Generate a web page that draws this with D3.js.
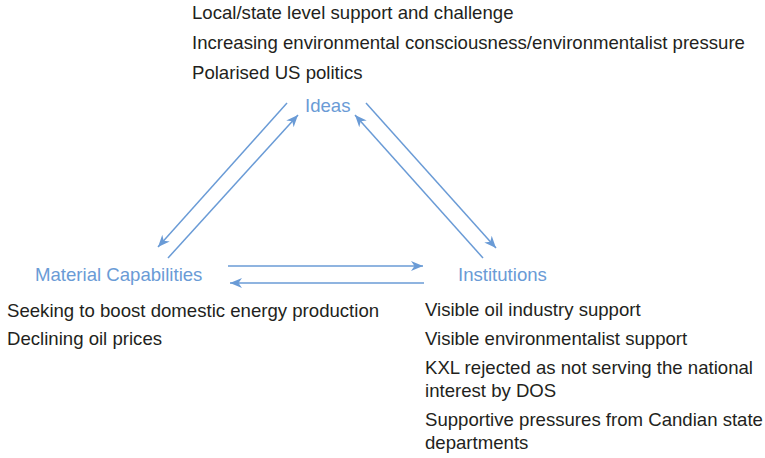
<!DOCTYPE html>
<html>
<head>
<meta charset="utf-8">
<script src="https://cdn.jsdelivr.net/npm/d3@7"></script>
<style>
html,body{margin:0;padding:0;background:#fff;}
svg{display:block;}
</style>
</head>
<body>
<svg id="chart" width="765" height="458"></svg>
<script>
// ---- data ----
const nodes = ["Ideas", "Material Capabilities", "Institutions"];
const ideasFactors = [
  ["Local/state level support and challenge"],
  ["Increasing environmental consciousness/environmentalist pressure"],
  ["Polarised US politics"]
];
const materialFactors = [
  ["Seeking to boost domestic energy production"],
  ["Declining oil prices"]
];
const institutionFactors = [
  ["Visible oil industry support"],
  ["Visible environmentalist support"],
  ["KXL rejected as not serving the national", "interest by DOS"],
  ["Supportive pressures from Candian state", "departments"]
];
const links = [
  {from: "Ideas", to: "Material Capabilities"},
  {from: "Material Capabilities", to: "Ideas"},
  {from: "Ideas", to: "Institutions"},
  {from: "Institutions", to: "Ideas"},
  {from: "Material Capabilities", to: "Institutions"},
  {from: "Institutions", to: "Material Capabilities"}
];

// ---- layout ----
const blue = "#6a9bd6";
const textCol = "#231f20";
const font = "'Liberation Sans', Arial, Helvetica, sans-serif";
const fs = 18.6;
const svg = d3.select("#chart");

const defs = svg.append("defs");
defs.append("marker")
  .attr("id", "head")
  .attr("viewBox", "-12 -6 13 12")
  .attr("refX", 0).attr("refY", 0)
  .attr("markerWidth", 13).attr("markerHeight", 12)
  .attr("markerUnits", "userSpaceOnUse")
  .attr("orient", "auto")
  .append("path")
  .attr("d", "M0,0 L-12,-5 L-8.5,0 L-12,5 Z")
  .attr("fill", blue);

// segment endpoints for each arrow (layout geometry)
const arrowGeom = {
  "Ideas>Material Capabilities": [[287,103],[158,247]],
  "Material Capabilities>Ideas": [[168,258],[298,115]],
  "Ideas>Institutions": [[366,103],[496,248]],
  "Institutions>Ideas": [[483,258],[355,115]],
  "Material Capabilities>Institutions": [[228,266],[423,266]],
  "Institutions>Material Capabilities": [[424,283],[230,283]]
};

svg.append("g").selectAll("line")
  .data(links).join("line")
  .attr("x1", d => arrowGeom[d.from + ">" + d.to][0][0])
  .attr("y1", d => arrowGeom[d.from + ">" + d.to][0][1])
  .attr("x2", d => arrowGeom[d.from + ">" + d.to][1][0])
  .attr("y2", d => arrowGeom[d.from + ">" + d.to][1][1])
  .attr("stroke", blue)
  .attr("stroke-width", 1.5)
  .attr("marker-end", "url(#head)");

const nodePos = {
  "Ideas": {x: 305, y: 112},
  "Material Capabilities": {x: 35, y: 281},
  "Institutions": {x: 458, y: 281}
};
svg.append("g").selectAll("text")
  .data(nodes).join("text")
  .attr("x", d => nodePos[d].x)
  .attr("y", d => nodePos[d].y)
  .attr("fill", blue)
  .attr("font-family", font)
  .attr("font-size", fs)
  .text(d => d);

function factorList(list, x, y0, itemGap, lineGap) {
  const g = svg.append("g");
  let y = y0;
  list.forEach(item => {
    item.forEach((line, i) => {
      g.append("text")
        .attr("x", x).attr("y", y)
        .attr("fill", textCol)
        .attr("font-family", font)
        .attr("font-size", fs)
        .text(line);
      if (i < item.length - 1) y += lineGap;
    });
    y += itemGap;
  });
}
factorList(ideasFactors, 192, 18.5, 30, 23);
factorList(materialFactors, 7, 316.5, 28.5, 23);
factorList(institutionFactors, 425, 316, 29, 23);
</script>
</body>
</html>
